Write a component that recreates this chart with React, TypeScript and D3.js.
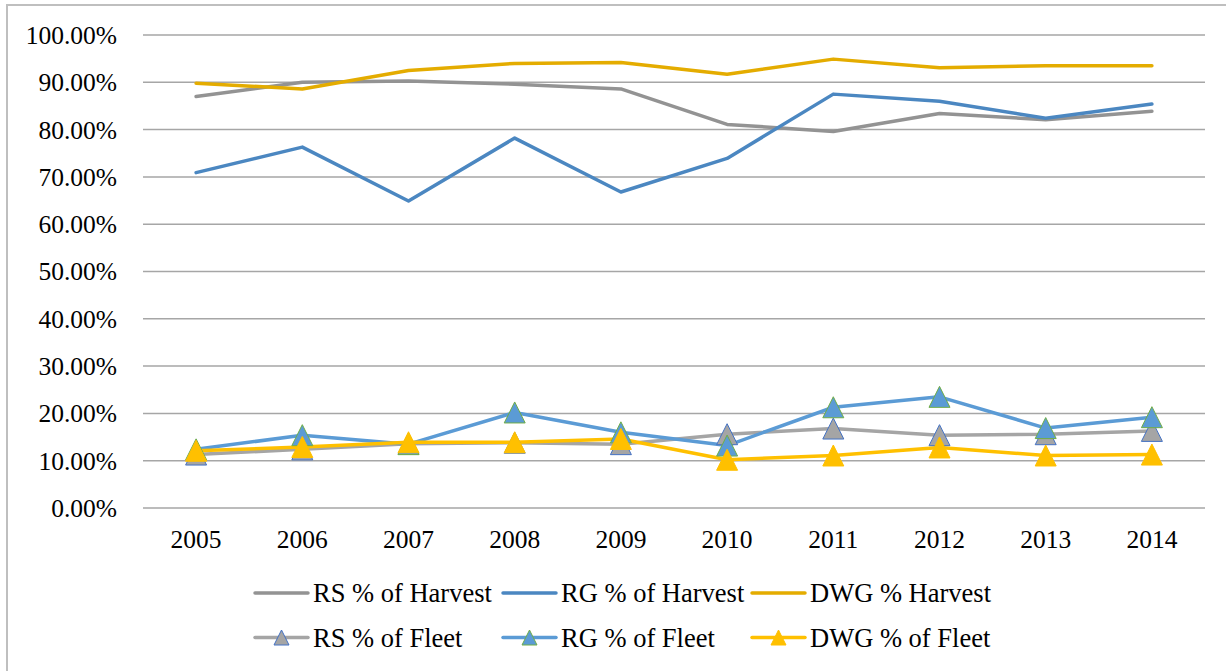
import React from "react";
import * as d3 from "d3";

const years = ["2005", "2006", "2007", "2008", "2009", "2010", "2011", "2012", "2013", "2014"];
const yTicks = [0, 10, 20, 30, 40, 50, 60, 70, 80, 90, 100];

const rsHarvest = [87.0, 90.0, 90.3, 89.6, 88.6, 81.1, 79.6, 83.4, 82.1, 83.9];
const rgHarvest = [70.9, 76.3, 64.9, 78.2, 66.8, 73.9, 87.5, 86.0, 82.4, 85.4];
const dwgHarvest = [89.8, 88.6, 92.5, 94.0, 94.2, 91.7, 94.9, 93.1, 93.5, 93.5];
const rsFleet = [11.3, 12.4, 13.6, 13.8, 13.5, 15.6, 16.8, 15.4, 15.6, 16.3];
const rgFleet = [12.4, 15.4, 13.5, 20.2, 16.0, 13.2, 21.3, 23.5, 16.9, 19.2];
const dwgFleet = [12.1, 12.9, 13.9, 13.9, 14.6, 10.2, 11.1, 12.8, 11.1, 11.3];

const seriesNames = [
  "RS % of Harvest",
  "RG % of Harvest",
  "DWG % Harvest",
  "RS % of Fleet",
  "RG % of Fleet",
  "DWG % of Fleet",
];

type Series = {
  name: string;
  values: number[];
  color: string;
  marker: boolean;
  markerFill?: string;
  markerStroke?: string;
};

const series: Series[] = [
  { name: seriesNames[0], values: rsHarvest, color: "#939393", marker: false },
  { name: seriesNames[1], values: rgHarvest, color: "#4B87C1", marker: false },
  { name: seriesNames[2], values: dwgHarvest, color: "#E4AC00", marker: false },
  { name: seriesNames[3], values: rsFleet, color: "#A5A5A5", marker: true, markerFill: "#A5A5A5", markerStroke: "#4472C4" },
  { name: seriesNames[4], values: rgFleet, color: "#5B9BD5", marker: true, markerFill: "#5B9BD5", markerStroke: "#70AD47" },
  { name: seriesNames[5], values: dwgFleet, color: "#FFC000", marker: true, markerFill: "#FFC000", markerStroke: "#FFC000" },
];

const W = 1226;
const H = 671;
const plotLeft = 143;
const plotRight = 1205;
const plotTop = 35;
const plotBottom = 508;

const FONT = "'Liberation Serif', 'Times New Roman', serif";

function tri(cx: number, cy: number, w = 21, h = 21) {
  return `M${cx},${cy - h / 2} L${cx + w / 2},${cy + h / 2} L${cx - w / 2},${cy + h / 2} Z`;
}

export default function App() {
  const x = d3.scalePoint<string>().domain(years).range([plotLeft, plotRight]).padding(0.5);
  const y = d3.scaleLinear().domain([0, 100]).range([plotBottom, plotTop]);

  const line = d3
    .line<number>()
    .x((_, i) => x(years[i]) as number)
    .y((d) => y(d));

  const legendCols = [255, 503, 752];
  const legendRows = [593, 637.5];
  const sampleLen = 53;

  return (
    <svg
      width={W}
      height={H}
      style={{ position: "absolute", left: 0, top: 0, background: "#fff" }}
      fontFamily={FONT}
    >
      <rect x={0} y={0} width={W} height={H} fill="#fff" />
      {/* chart border */}
      <rect x={7} y={5} width={W + 20} height={H + 20} fill="none" stroke="#BFBFBF" strokeWidth={2} />

      {/* gridlines */}
      {yTicks.map((t) => (
        <line
          key={t}
          x1={plotLeft}
          x2={plotRight}
          y1={y(t)}
          y2={y(t)}
          stroke="#A6A6A6"
          strokeWidth={1.5}
        />
      ))}

      {/* y labels */}
      {yTicks.map((t) => (
        <text
          key={"yl" + t}
          x={117}
          y={y(t)}
          dy="0.35em"
          textAnchor="end"
          fontSize={25.5}
          fill="#000"
        >
          {t.toFixed(2) + "%"}
        </text>
      ))}

      {/* x labels */}
      {years.map((yr) => (
        <text key={yr} x={x(yr)} y={548} textAnchor="middle" fontSize={25.5} fill="#000">
          {yr}
        </text>
      ))}

      {/* series lines */}
      {series.map((s) => (
        <path
          key={s.name}
          d={line(s.values) || ""}
          fill="none"
          stroke={s.color}
          strokeWidth={3.5}
          strokeLinejoin="round"
          strokeLinecap="round"
        />
      ))}

      {/* markers */}
      {series
        .filter((s) => s.marker)
        .map((s) => (
          <g key={s.name + "m"}>
            {s.values.map((v, i) => (
              <path
                key={i}
                d={tri(x(years[i]) as number, y(v))}
                fill={s.markerFill}
                stroke={s.markerStroke}
                strokeWidth={1}
              />
            ))}
          </g>
        ))}

      {/* legend */}
      {series.map((s, i) => {
        const col = i % 3;
        const row = Math.floor(i / 3);
        const lx = legendCols[col];
        const ly = legendRows[row];
        return (
          <g key={s.name + "lg"}>
            <line
              x1={lx}
              x2={lx + sampleLen}
              y1={ly}
              y2={ly}
              stroke={s.color}
              strokeWidth={3.5}
              strokeLinecap="round"
            />
            {s.marker && (
              <path
                d={tri(lx + sampleLen / 2, ly, 15, 15)}
                fill={s.markerFill}
                stroke={s.markerStroke}
                strokeWidth={1}
              />
            )}
            <text x={lx + sampleLen + 5} y={ly} dy="0.35em" fontSize={26.5} fill="#000">
              {s.name}
            </text>
          </g>
        );
      })}
    </svg>
  );
}
